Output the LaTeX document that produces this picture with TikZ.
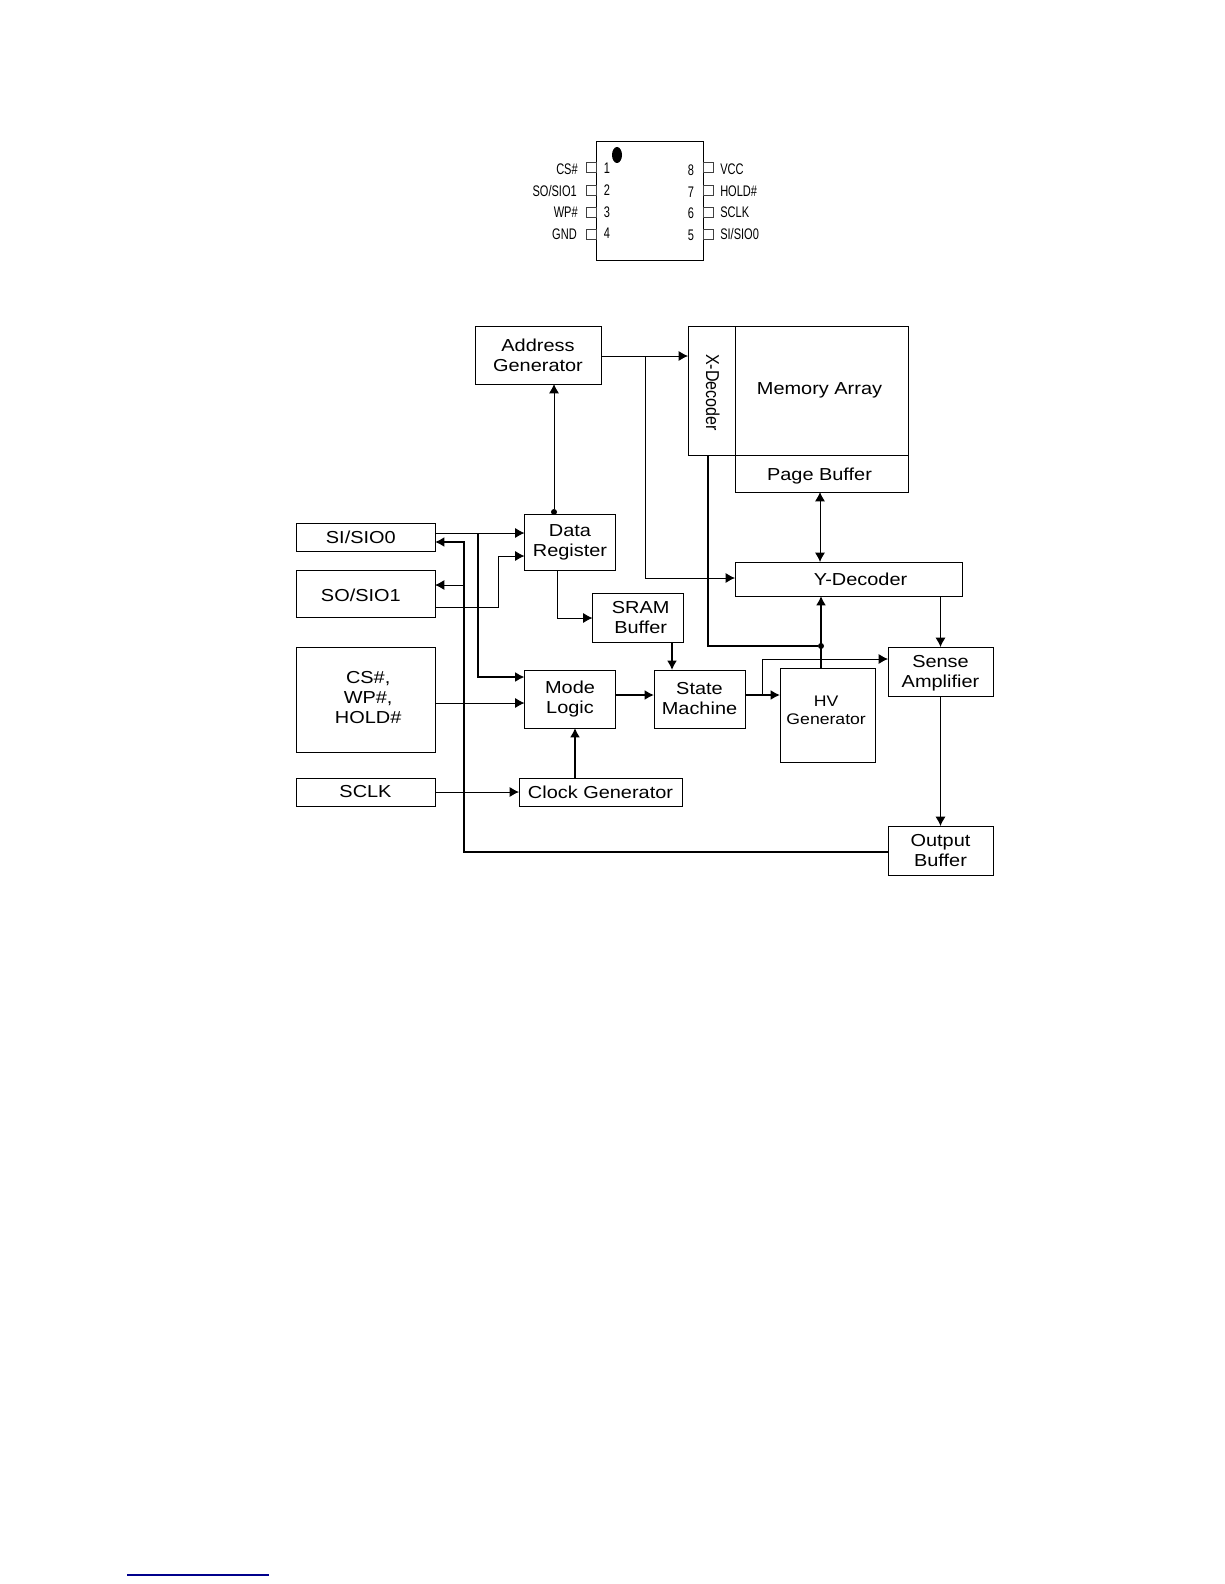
\documentclass[tikz,border=0pt]{standalone}
\usepackage{fontspec}
\setmainfont{Liberation Sans}
\newfontfamily\boxfont[FakeStretch=1.15]{Liberation Sans}
\newfontfamily\pinfont[FakeStretch=0.72]{Liberation Sans}
\newfontfamily\decfont[FakeStretch=0.86]{Liberation Sans}
\usetikzlibrary{arrows.meta}
\tikzset{
  boxsize/.style 2 args={minimum width=#1*0.75pt,minimum height=#2*0.75pt},
  box/.style={draw,line width=0.7pt,inner sep=0pt,outer sep=0pt,align=center,
    font=\boxfont\fontsize{13}{15}\selectfont},
  boxtext/.style={align=center,font=\boxfont\fontsize{13}{15}\selectfont},
  pinbox/.style={draw=black!75,line width=0.6pt,inner sep=0pt,outer sep=0pt,minimum size=7.5pt},
  pintext/.style={inner sep=0pt,font=\pinfont\fontsize{11.5}{13}\selectfont},
  conn/.style={line width=0.7pt,-{Latex[length=7pt,width=7.5pt]}},
  bothconn/.style={line width=0.7pt,{Latex[length=7pt,width=7.5pt]}-{Latex[length=7pt,width=7.5pt]}},
  thickconn/.style={line width=1.3pt,-{Latex[length=7pt,width=7.5pt]}},
  dot/.style={circle,fill,inner sep=0pt,minimum size=4.5pt}
}
\begin{document}
\begin{tikzpicture}[x=0.75pt,y=-0.75pt]
  \useasboundingbox (0,0) rectangle (1224,1584);

  \node[box,boxsize={107}{119},line width=0.6pt] (chip) at (649.5,200.5) {};
  \fill (617,155) ellipse [x radius=5*0.75pt,y radius=8*0.75pt];
  \node[pinbox] (P1) at (591,167.5) {};
  \node[pinbox] (P2) at (591,190) {};
  \node[pinbox] (P3) at (591,212) {};
  \node[pinbox] (P4) at (591,234) {};
  \node[pinbox] (P8) at (708,167.5) {};
  \node[pinbox] (P7) at (708,190) {};
  \node[pinbox] (P6) at (708,212) {};
  \node[pinbox] (P5) at (708,234) {};
  \node[pintext,anchor=east] (csname) at (578,169) {CS\#};
  \node[pintext,anchor=east] (soname) at (577,191) {SO/SIO1};
  \node[pintext,anchor=east] (wpname) at (578,212) {WP\#};
  \node[pintext,anchor=east] (gndname) at (577,234) {GND};
  \node[pintext,anchor=west] (vccname) at (720,169) {VCC};
  \node[pintext,anchor=west] (holdname) at (720,191) {HOLD\#};
  \node[pintext,anchor=west] (sclkname) at (720,212) {SCLK};
  \node[pintext,anchor=west] (siname) at (720,234) {SI/SIO0};
  \node[pintext] (N1) at (607,168) {1};
  \node[pintext] (N2) at (607,190) {2};
  \node[pintext] (N3) at (607,212) {3};
  \node[pintext] (N4) at (607,233) {4};
  \node[pintext] (N8) at (691,170) {8};
  \node[pintext] (N7) at (691,192) {7};
  \node[pintext] (N6) at (691,213) {6};
  \node[pintext] (N5) at (691,235) {5};

  \node[box,boxsize={126}{58}] (addr) at (538,355) {Address\\Generator};
  \node[box,boxsize={47}{129},label={[rotate=-90,font=\decfont\fontsize{14}{15}\selectfont,xshift=1.5pt,yshift=1pt]center:X-Decoder}] (xdec) at (711.5,390.5) {};
  \node[box,boxsize={173}{129},label={[boxtext,xshift=-1.5pt]center:Memory Array}] (mem) at (821.5,390.5) {};
  \node[box,boxsize={173}{37},line width=0.6pt,label={[boxtext,xshift=-1.5pt,yshift=-2pt]center:Page Buffer}] (page) at (821.5,473.5) {};
  \node[box,boxsize={227}{34},label={[boxtext,xshift=9pt]center:Y-Decoder}] (ydec) at (848.5,579) {};
  \node[box,boxsize={91}{56}] (data) at (570,542) {Data\\Register};
  \node[box,boxsize={91}{49},label={[boxtext,xshift=2pt]center:SRAM\\Buffer}] (sram) at (638,617.5) {};
  \node[box,boxsize={139}{28},label={[boxtext,xshift=-3.5pt]center:SI/SIO0}] (sio0) at (365.5,537) {};
  \node[box,boxsize={139}{47},label={[boxtext,xshift=-3.5pt,yshift=-1.5pt]center:SO/SIO1}] (sio1) at (365.5,593.5) {};
  \node[box,boxsize={139}{105},label={[boxtext,xshift=2pt,yshift=1.5pt]center:CS\#,\\WP\#,\\HOLD\#}] (ctrl) at (365.5,699.5) {};
  \node[box,boxsize={139}{28}] (sclk) at (365.5,792) {SCLK};
  \node[box,boxsize={91}{58}] (mode) at (570,699) {Mode\\Logic};
  \node[box,boxsize={91}{58}] (state) at (699.5,699) {State\\Machine};
  \node[box,boxsize={95}{94},label={[font=\boxfont\fontsize{11.5}{13.2}\selectfont,align=center,xshift=-1pt,yshift=3.5pt]center:HV\\Generator}] (hv) at (827.5,715) {};
  \node[box,boxsize={163}{28}] (clock) at (600.5,792) {Clock Generator};
  \node[box,boxsize={105}{49},label={[boxtext,yshift=-1.5pt]center:Sense\\Amplifier}] (sense) at (940.5,671.5) {};
  \node[box,boxsize={105}{49}] (out) at (940.5,850.5) {Output\\Buffer};

  \node[dot] (datadot) at (554,512) {};
  \node[dot] (hvdot) at (821,646) {};
  \coordinate (addrtap) at (645,356);
  \coordinate (sitap) at (478,533);
  \coordinate (sityin) at (464,542);
  \coordinate (soin) at (464,585);
  \coordinate (sobend) at (498,607);
  \coordinate (xdectap) at (708,455);
  \coordinate (statetap) at (762,695);
  \coordinate (senseY) at (762,659);
  \coordinate (outbus) at (464,852);

  \draw[conn] (addr.east |- addrtap) -- (xdec.west |- addrtap);
  \draw[conn] (addrtap) |- (ydec.west |- 0,578);
  \draw[conn] (datadot) -- (addr.south -| datadot);
  \draw[conn] (sio0.east |- sitap) -- (data.west |- sitap);
  \draw[thickconn] (sitap) |- (mode.west |- 0,677);
  \draw[conn] (sio1.east |- sobend) -| (sobend |- 0,556) -- (data.west |- 0,556);
  \draw[thickconn] (out.west |- outbus) -| (sityin) -- (sio0.east |- sityin);
  \draw[conn] (soin) -- (sio1.east |- soin);
  \draw[conn] (ctrl.east |- 0,703) -- (mode.west |- 0,703);
  \draw[conn] (sclk.east) -- (clock.west);
  \draw[thickconn] (clock.north -| 575,0) -- (mode.south -| 575,0);
  \draw[conn] (data.south -| 557,0) |- (sram.west |- 0,618);
  \draw[thickconn] (sram.south -| 672,0) -- (state.north -| 672,0);
  \draw[thickconn] (mode.east |- 0,695) -- (state.west |- 0,695);
  \draw[thickconn] (state.east |- statetap) -- (hv.west |- statetap);
  \draw[conn] (statetap) -- (senseY) -- (sense.west |- senseY);
  \draw[line width=1.3pt] (xdectap) |- (hvdot);
  \draw[thickconn] (hv.north -| hvdot) -- (ydec.south -| hvdot);
  \draw[bothconn] (page.south -| 820,0) -- (ydec.north -| 820,0);
  \draw[conn] (ydec.south -| sense.north) -- (sense.north);
  \draw[conn] (sense.south) -- (out.north);

  \coordinate (noteL) at (127,1575);
  \coordinate (noteR) at (269,1575);
  \draw[line width=0.9pt,color=blue!55!black] (noteL) -- (noteR);
\end{tikzpicture}
\end{document}
